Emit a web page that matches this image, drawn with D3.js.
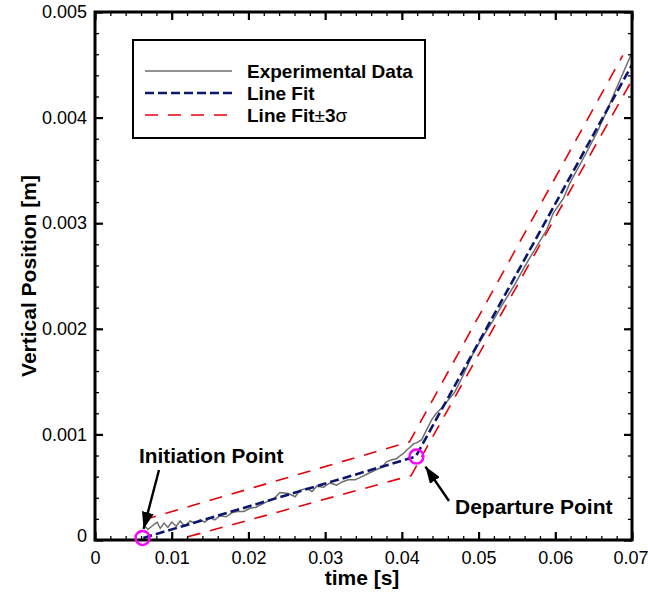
<!DOCTYPE html>
<html>
<head>
<meta charset="utf-8">
<script src="https://cdn.jsdelivr.net/npm/d3@7"></script>
<style>
  body { margin: 0; background: #fff; }
  text { font-family: "Liberation Sans", Arial, sans-serif; }
</style>
</head>
<body>
<svg id="chart" width="648" height="593"></svg>
<script>
// axis ticks
const xTicks = [0, 0.01, 0.02, 0.03, 0.04, 0.05, 0.06, 0.07];
const yTicks = [0, 0.001, 0.002, 0.003, 0.004, 0.005];
const xTickLabels = ['0', '0.01', '0.02', '0.03', '0.04', '0.05', '0.06', '0.07'];
const yTickLabels = ['0', '0.001', '0.002', '0.003', '0.004', '0.005'];

const expTime = [0.0064, 0.0069, 0.0074, 0.0081, 0.0085, 0.0090, 0.0095, 0.0100, 0.0106, 0.0111,
                 0.0117, 0.0124, 0.0130, 0.0137, 0.0143, 0.0150, 0.0156, 0.0163, 0.0171, 0.0179,
                 0.0186, 0.0194, 0.0202, 0.0210, 0.0218, 0.0226, 0.0233, 0.0241, 0.0252, 0.0261,
                 0.0267, 0.0276, 0.0283, 0.0289, 0.0298, 0.0306, 0.0315, 0.0322, 0.0330, 0.0339,
                 0.0348, 0.0356, 0.0365, 0.0374, 0.0380, 0.0387, 0.0393, 0.0398, 0.0402, 0.0406,
                 0.0411, 0.0415, 0.0419, 0.0426, 0.0432, 0.0439, 0.0445, 0.0452, 0.0461, 0.0469,
                 0.0478, 0.0493, 0.0506, 0.0519, 0.0532, 0.0548, 0.0561, 0.0574, 0.0589, 0.0597,
                 0.0611, 0.0619, 0.0640, 0.0655, 0.0667, 0.0678, 0.0699];
const expPos = [0.00014, 0.00010, 0.00013, 0.00017, 0.00011, 0.00016, 0.00012, 0.00017, 0.00013, 0.00018,
                0.00013, 0.00018, 0.00016, 0.00019, 0.00017, 0.00021, 0.00019, 0.00023, 0.00022, 0.00026,
                0.00027, 0.00027, 0.00030, 0.00031, 0.00034, 0.00037, 0.00039, 0.00045, 0.00044, 0.00041,
                0.00047, 0.00049, 0.00046, 0.00051, 0.00050, 0.00054, 0.00052, 0.00055, 0.00057, 0.00057,
                0.00060, 0.00063, 0.00066, 0.00069, 0.00074, 0.00076, 0.00077, 0.00080, 0.00082, 0.00085,
                0.00088, 0.00091, 0.00092, 0.00095, 0.00104, 0.00114, 0.00120, 0.00125, 0.00133, 0.00140,
                0.00153, 0.00177, 0.00193, 0.00208, 0.00224, 0.00243, 0.00260, 0.00276, 0.00294, 0.00309,
                0.00324, 0.00338, 0.00366, 0.00387, 0.00406, 0.00425, 0.00460];

// two-segment line fit and the +/- 3 sigma band
const fitTime = [0.0063, 0.0418, 0.0700];
const fitPos = [0.00002, 0.00079, 0.00450];
const upperTime = [0.0063, 0.0410, 0.0688];
const upperPos = [0.00019, 0.00093, 0.00459];
const lowerTime = [0.0121, 0.0412, 0.0698];
const lowerPos = [0.00003, 0.00061, 0.00433];

// marked points
const markTime = [0.0062, 0.0419];
const markPos = [0.00002, 0.00079];

const legendLabels = ['Experimental Data', 'Line Fit', 'Line Fit'];

const margin = {left: 95, right: 16, top: 12, bottom: 53};
const W = 648, H = 593;

const svg = d3.select('#chart');

const x = d3.scaleLinear().domain([0, 0.07]).range([margin.left, W - margin.right]);
const y = d3.scaleLinear().domain([0, 0.005]).range([H - margin.bottom, margin.top]);

const zip = (a, b) => a.map((v, i) => [v, b[i]]);
const line = d3.line().x(d => x(d[0])).y(d => y(d[1]));

svg.append('clipPath').attr('id', 'plotclip')
  .append('rect')
  .attr('x', x(0)).attr('y', y(0.005))
  .attr('width', x(0.07) - x(0)).attr('height', y(0) - y(0.005));

const plot = svg.append('g').attr('clip-path', 'url(#plotclip)');

plot.append('path')
  .attr('d', line(zip(expTime, expPos)))
  .attr('fill', 'none').attr('stroke', '#6e6e6e').attr('stroke-width', 1.5);

plot.append('path')
  .attr('d', line(zip(upperTime, upperPos)))
  .attr('fill', 'none').attr('stroke', '#e8000b').attr('stroke-width', 1.6)
  .attr('stroke-dasharray', '13,10');

plot.append('path')
  .attr('d', line(zip(lowerTime, lowerPos)))
  .attr('fill', 'none').attr('stroke', '#e8000b').attr('stroke-width', 1.6)
  .attr('stroke-dasharray', '13,10');

plot.append('path')
  .attr('d', line(zip(fitTime, fitPos)))
  .attr('fill', 'none').attr('stroke', '#0a1670').attr('stroke-width', 2.6)
  .attr('stroke-dasharray', '9,4');

// axes: ticks inward on all four sides
const xMinor = d3.range(0, 0.07001, 0.002);
const yMinor = d3.range(0, 0.005001, 0.0002);

function axisTicks(axisFn, scale, major, minor, transform, labels) {
  const gMinor = svg.append('g').attr('transform', transform)
    .call(axisFn(scale).tickValues(minor).tickSize(-4).tickFormat(''));
  const gMajor = svg.append('g').attr('transform', transform)
    .call(axisFn(scale).tickValues(major).tickSize(-8).tickSizeOuter(0)
      .tickFormat((d, i) => labels ? labels[i] : ''));
  [gMinor, gMajor].forEach(g => {
    g.select('.domain').remove();
    g.selectAll('line').attr('stroke', '#000').attr('stroke-width', 1.3);
  });
  gMajor.selectAll('line').attr('stroke-width', 2.2);
  return gMajor;
}

const gx = axisTicks(d3.axisBottom, x, xTicks, xMinor, `translate(0,${y(0)})`, xTickLabels);
gx.selectAll('text').attr('y', 11).attr('dy', '0.71em')
  .style('font-size', '18px').attr('fill', '#000');
gx.selectAll('.tick').filter(d => d === 0.07).select('text').attr('x', -1.5);
axisTicks(d3.axisTop, x, xTicks, xMinor, `translate(0,${y(0.005)})`, null);

const gy = axisTicks(d3.axisLeft, y, yTicks, yMinor, `translate(${x(0)},0)`, yTickLabels);
gy.selectAll('text').attr('x', -8)
  .style('font-size', '18px').attr('fill', '#000');
gy.selectAll('.tick').filter(d => d === 0).select('text').attr('dy', '0.1em');
axisTicks(d3.axisRight, y, yTicks, yMinor, `translate(${x(0.07)},0)`, null);

// frame
svg.append('rect')
  .attr('x', x(0)).attr('y', y(0.005))
  .attr('width', x(0.07) - x(0)).attr('height', y(0) - y(0.005))
  .attr('fill', 'none').attr('stroke', '#000').attr('stroke-width', 3);

// axis titles
svg.append('text')
  .attr('x', 362).attr('y', 585)
  .attr('text-anchor', 'middle')
  .style('font-size', '21px').style('font-weight', 'bold')
  .text('time [s]');

svg.append('text')
  .attr('transform', `translate(36,${(y(0) + y(0.005)) / 2}) rotate(-90)`)
  .attr('text-anchor', 'middle')
  .style('font-size', '21px').style('font-weight', 'bold')
  .text('Vertical Position [m]');

// marked points
svg.selectAll('circle.mark')
  .data(zip(markTime, markPos))
  .enter().append('circle')
  .attr('class', 'mark')
  .attr('cx', d => x(d[0])).attr('cy', d => y(d[1]))
  .attr('r', 7)
  .attr('fill', 'none').attr('stroke', '#ff00ff').attr('stroke-width', 2.5);

// annotations with arrows
svg.append('defs').append('marker')
  .attr('id', 'head')
  .attr('viewBox', '0 0 14 10')
  .attr('refX', 14).attr('refY', 5)
  .attr('markerWidth', 7).attr('markerHeight', 5)
  .attr('markerUnits', 'strokeWidth')
  .attr('orient', 'auto')
  .append('path').attr('d', 'M0,0 L14,5 L0,10 Z').attr('fill', '#000');

svg.append('line')
  .attr('x1', 159).attr('y1', 470)
  .attr('x2', x(markTime[0]) + 1).attr('y2', y(markPos[0]) - 9)
  .attr('stroke', '#000').attr('stroke-width', 2.4)
  .attr('marker-end', 'url(#head)');

svg.append('text')
  .attr('x', 139).attr('y', 463)
  .style('font-size', '20.8px').style('font-weight', 'bold')
  .text('Initiation Point');

svg.append('line')
  .attr('x1', 449).attr('y1', 501)
  .attr('x2', x(markTime[1]) + 9).attr('y2', y(markPos[1]) + 10)
  .attr('stroke', '#000').attr('stroke-width', 2.4)
  .attr('marker-end', 'url(#head)');

svg.append('text')
  .attr('x', 455).attr('y', 514)
  .style('font-size', '21px').style('font-weight', 'bold')
  .text('Departure Point');

// legend
const legend = svg.append('g');
legend.append('rect')
  .attr('x', 133).attr('y', 40).attr('width', 292).attr('height', 98)
  .attr('fill', '#fff').attr('stroke', '#000').attr('stroke-width', 2);

const legendStyles = [
  {stroke: '#6e6e6e', width: 1.5, dash: null},
  {stroke: '#0a1670', width: 2.6, dash: '9,4'},
  {stroke: '#e8000b', width: 1.6, dash: '13,10'}
];
const legendY = [71, 93, 115];

legendStyles.forEach((s, i) => {
  legend.append('line')
    .attr('x1', 145).attr('x2', 232)
    .attr('y1', legendY[i]).attr('y2', legendY[i])
    .attr('stroke', s.stroke).attr('stroke-width', s.width)
    .attr('stroke-dasharray', s.dash);
  const t = legend.append('text')
    .attr('x', 247).attr('y', legendY[i]).attr('dy', '0.36em')
    .style('font-size', '19px').style('font-weight', 'bold')
    .text(legendLabels[i]);
  if (i === 2) {
    t.append('tspan').style('font-weight', 'normal').text('\u00b1');
    t.append('tspan').text('3');
    t.append('tspan').style('font-weight', 'normal').text('\u03c3');
  }
});
</script>
</body>
</html>
